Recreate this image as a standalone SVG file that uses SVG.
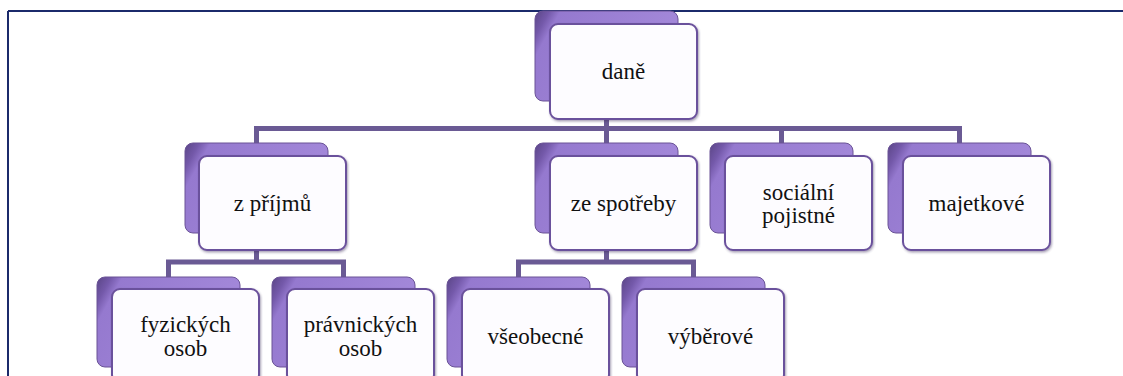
<svg xmlns="http://www.w3.org/2000/svg" width="1123" height="376" viewBox="0 0 1123 376">
  <style>
    .back { fill: url(#backGrad); stroke: #6a5396; stroke-width: 1; }
    .front { fill: #fdfcff; stroke: #6b519c; stroke-width: 2; filter: url(#sh); }
    .lbl { fill: #111; text-anchor: middle; }
    .conn { fill: none; stroke: #6a5a94; stroke-width: 5; }
    .frame { stroke: #1b2a6b; stroke-width: 2; fill: none; }
  </style>
  <defs>
    <linearGradient id="backGrad" x1="0" y1="0" x2="1" y2="0.35">
      <stop offset="0" stop-color="#5a4586"/>
      <stop offset="0.09" stop-color="#7459aa"/>
      <stop offset="0.16" stop-color="#9579cf"/>
      <stop offset="1" stop-color="#a489da"/>
    </linearGradient>
    <filter id="sh" x="-10%" y="-10%" width="125%" height="125%">
      <feDropShadow dx="1" dy="1.5" stdDeviation="1.2" flood-color="#3a2a5a" flood-opacity="0.45"/>
    </filter>
  </defs>

  <g id="frame">
    <line class="frame" x1="8" y1="11" x2="1123" y2="11"/>
    <line class="frame" x1="8" y1="11" x2="8" y2="376"/>
  </g>

  <g id="connectors">
    <path class="conn" d="M606.5 119 V128.5"/>
    <path class="conn" d="M256.5 143 V128.5 H959.5 V143"/>
    <path class="conn" d="M606.5 128.5 V143"/>
    <path class="conn" d="M781.5 128.5 V143"/>
    <path class="conn" d="M256.5 250 V262"/>
    <path class="conn" d="M168.5 277 V262 H343.5 V277"/>
    <path class="conn" d="M606.5 250 V262"/>
    <path class="conn" d="M518.5 277 V262 H693.5 V277"/>
  </g>

  <g id="n-dane">
    <rect class="back" x="535" y="11" width="143" height="90" rx="8"/>
    <rect class="front" x="550" y="24" width="147" height="95" rx="8"/>
    <text class="lbl" font-family="Liberation Serif" font-size="23" x="623.5" y="79">daně</text>
  </g>

  <g id="n-z-prijmu">
    <rect class="back" x="185" y="143" width="143" height="90" rx="8"/>
    <rect class="front" x="199" y="156" width="147" height="94" rx="8"/>
    <text class="lbl" font-family="Liberation Serif" font-size="23" x="272.5" y="211">z příjmů</text>
  </g>

  <g id="n-ze-spotreby">
    <rect class="back" x="535" y="143" width="143" height="90" rx="8"/>
    <rect class="front" x="550" y="156" width="147" height="94" rx="8"/>
    <text class="lbl" font-family="Liberation Serif" font-size="23" x="623.5" y="211">ze spotřeby</text>
  </g>

  <g id="n-socialni">
    <rect class="back" x="710" y="143" width="143" height="90" rx="8"/>
    <rect class="front" x="725" y="156" width="147" height="94" rx="8"/>
    <text class="lbl" font-family="Liberation Serif" font-size="23" x="798.5" y="200">sociální</text>
    <text class="lbl" font-family="Liberation Serif" font-size="23" x="798.5" y="223">pojistné</text>
  </g>

  <g id="n-majetkove">
    <rect class="back" x="888" y="143" width="143" height="90" rx="8"/>
    <rect class="front" x="903" y="156" width="147" height="94" rx="8"/>
    <text class="lbl" font-family="Liberation Serif" font-size="23" x="976.5" y="211">majetkové</text>
  </g>

  <g id="n-fyzickych">
    <rect class="back" x="97" y="277" width="143" height="90" rx="8"/>
    <rect class="front" x="112" y="289" width="147" height="94" rx="8"/>
    <text class="lbl" font-family="Liberation Serif" font-size="23" x="185.5" y="332">fyzických</text>
    <text class="lbl" font-family="Liberation Serif" font-size="23" x="185.5" y="356">osob</text>
  </g>

  <g id="n-pravnickych">
    <rect class="back" x="272" y="277" width="143" height="90" rx="8"/>
    <rect class="front" x="287" y="289" width="147" height="94" rx="8"/>
    <text class="lbl" font-family="Liberation Serif" font-size="23" x="360.5" y="332">právnických</text>
    <text class="lbl" font-family="Liberation Serif" font-size="23" x="360.5" y="356">osob</text>
  </g>

  <g id="n-vseobecne">
    <rect class="back" x="447" y="277" width="143" height="90" rx="8"/>
    <rect class="front" x="462" y="289" width="147" height="94" rx="8"/>
    <text class="lbl" font-family="Liberation Serif" font-size="23" x="535.5" y="344">všeobecné</text>
  </g>

  <g id="n-vyberove">
    <rect class="back" x="622" y="277" width="143" height="90" rx="8"/>
    <rect class="front" x="637" y="289" width="147" height="94" rx="8"/>
    <text class="lbl" font-family="Liberation Serif" font-size="23" x="710.5" y="344">výběrové</text>
  </g>
</svg>
